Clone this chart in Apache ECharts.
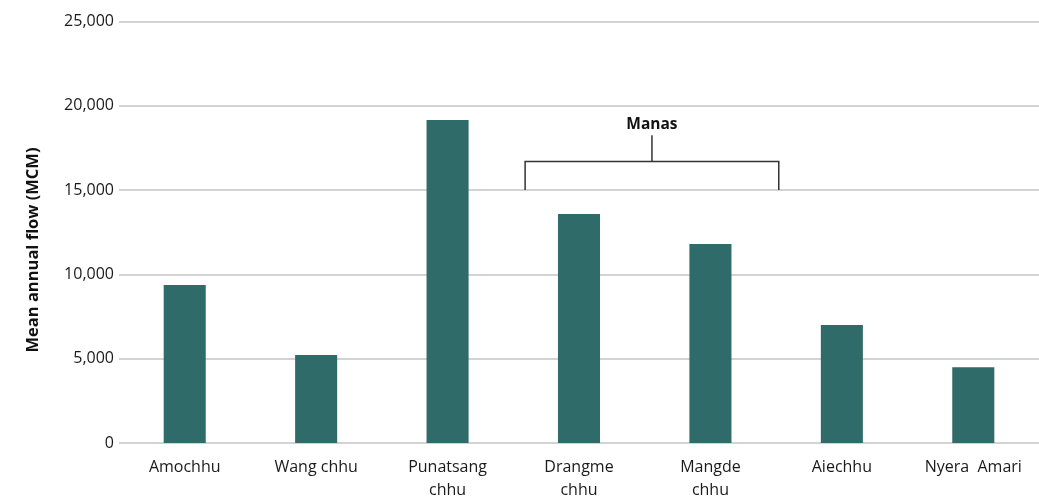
<!DOCTYPE html>
<html><head><meta charset="utf-8">
<script src="https://cdn.jsdelivr.net/npm/echarts@6/dist/echarts.min.js"></script>
<style>html,body{margin:0;padding:0;background:#fff}#c{width:1039px;height:499px}</style>
</head><body><div id="c"></div>
<script>
const categories = ['Amochhu','Wang chhu','Punatsang\nchhu','Drangme\nchhu','Mangde\nchhu','Aiechhu','Nyera  Amari'];
const flows = [9370, 5220, 19160, 13580, 11800, 7000, 4500];
const yTicks = [0, 5000, 10000, 15000, 20000, 25000];
const yTitle = 'Mean annual flow (MCM)';
const groupLabel = 'Manas';
const groupFrom = 'Drangme\nchhu', groupTo = 'Mangde\nchhu';
const bracketLevels = [15000, 16700, 18250];

const FONT = '"Open Sans", "Noto Sans", sans-serif';
const chart = echarts.init(document.getElementById('c'), null, {renderer:'canvas'});
chart.setOption({
  animation:false,
  grid:{left:119, right:0, top:21.5, bottom:56, containLabel:false, outerBoundsMode:'none'},
  xAxis:{type:'category', data:categories,
    axisLine:{show:false}, axisTick:{show:false},
    axisLabel:{color:'#1a1a1a', fontFamily:FONT, fontSize:16, margin:13, lineHeight:23, interval:0}},
  yAxis:{type:'value', min:yTicks[0], max:yTicks[yTicks.length-1], interval:5000,
    axisLine:{show:false}, axisTick:{show:false},
    axisLabel:{color:'#1a1a1a', fontFamily:FONT, fontSize:16, margin:5,
      formatter:v=>v.toLocaleString('en-US')},
    splitLine:{lineStyle:{color:'#c4c4c4', width:1.5}}},
  series:[{type:'bar', data:flows, barWidth:'32%', itemStyle:{color:'#2f6b68'}}]
});
function drawBracket(){
  const band = chart.convertToPixel({xAxisIndex:0}, categories[1]) - chart.convertToPixel({xAxisIndex:0}, categories[0]);
  const xl = chart.convertToPixel({xAxisIndex:0}, groupFrom) - 0.41*band;
  const xr = chart.convertToPixel({xAxisIndex:0}, groupTo) + 0.52*band;
  const xm = (xl+xr)/2;
  const y0 = chart.convertToPixel({yAxisIndex:0}, bracketLevels[0]);
  const y1 = chart.convertToPixel({yAxisIndex:0}, bracketLevels[1]);
  const y2 = chart.convertToPixel({yAxisIndex:0}, bracketLevels[2]);
  const ls = {stroke:'#333', lineWidth:1.5, fill:null};
  chart.setOption({graphic:[
    {type:'polyline', shape:{points:[[xl,y0],[xl,y1],[xr,y1],[xr,y0]]}, style:ls, z:10},
    {type:'line', shape:{x1:xm,y1:y1,x2:xm,y2:y2}, style:ls, z:10},
    {type:'text', x:xm, y:y2-3, style:{text:groupLabel, fontFamily:FONT, fontSize:15.5, fontWeight:'bold', fill:'#111', align:'center', verticalAlign:'bottom'}, z:10},
    {type:'text', x:33, y:250, rotation:Math.PI/2, style:{text:yTitle, fontFamily:FONT, fontSize:16.5, fontWeight:'bold', fill:'#111', align:'center', verticalAlign:'middle'}, z:10}
  ]});
}
drawBracket();
</script></body></html>
